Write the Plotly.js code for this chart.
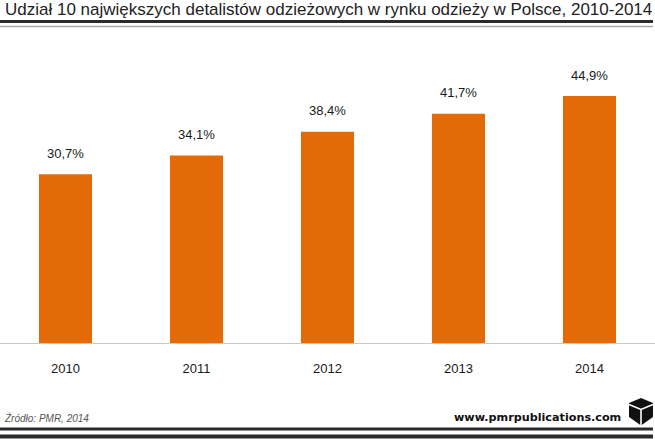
<!DOCTYPE html>
<html>
<head>
<meta charset="utf-8">
<script src="https://cdn.plot.ly/plotly-3.0.1.min.js"></script>
<style>
html,body{margin:0;padding:0;background:#fff;}
#chart{width:655px;height:439px;}
</style>
</head>
<body>
<div id="chart"></div>
<script>
// ---- data ----
const years = ["2010", "2011", "2012", "2013", "2014"];
const shares = [30.7, 34.1, 38.4, 41.7, 44.9];
const shareLabels = ["30,7%", "34,1%", "38,4%", "41,7%", "44,9%"];

const titleText = "Udział 10 największych detalistów odzieżowych w rynku odzieży w Polsce, 2010-2014";
const sourceText = "Źródło: PMR, 2014";
const siteText = "www.pmrpublications.com";

// ---- layout helpers (pixel -> paper) ----
const W = 655, H = 439, MT = 68, MB = 96, ML = 0, MR = 0;
const plotH = H - MT - MB, plotW = W - ML - MR;
const px = x => (x - ML) / plotW;
const py = y => (H - MB - y) / plotH;

const ORANGE = "#E46A07";

const trace = {
  type: "bar",
  x: years,
  y: shares,
  marker: {color: ORANGE, line: {width: 0}},
  hoverinfo: "skip"
};

// value labels: category index positions on the category axis
const annotations = years.map((yr, i) => ({
  x: i, y: shares[i], xref: "x", yref: "y",
  text: shareLabels[i], showarrow: false,
  yshift: 21, yanchor: "middle",
  font: {family: "Liberation Sans, Arial, sans-serif", size: 13, color: "#1a1a1a"}
}));

annotations.push({
  xref: "paper", yref: "paper", x: px(3), y: py(10),
  xanchor: "left", yanchor: "middle", showarrow: false,
  text: titleText,
  font: {family: "Liberation Sans, Arial, sans-serif", size: 17, color: "#222"}
});
annotations.push({
  xref: "paper", yref: "paper", x: px(2), y: py(418),
  xanchor: "left", yanchor: "middle", showarrow: false,
  text: "<i>" + sourceText + "</i>",
  font: {family: "Liberation Sans, Arial, sans-serif", size: 10, color: "#555"}
});
annotations.push({
  xref: "paper", yref: "paper", x: px(623), y: py(417),
  xanchor: "right", yanchor: "middle", showarrow: false,
  text: "<b>" + siteText + "</b>",
  font: {family: "DejaVu Sans, sans-serif", size: 11.2, color: "#111"}
});

function poly(pts){
  return "M" + pts.map(p => px(p[0]) + "," + py(p[1])).join(" L") + " Z";
}
function pline(pts){
  return "M" + pts.map(p => px(p[0]) + "," + py(p[1])).join(" L");
}

const shapes = [
  // title rules
  {type: "line", xref: "paper", yref: "paper", x0: px(0), x1: px(653), y0: py(21.5), y1: py(21.5), line: {color: "#2b2b2b", width: 3}},
  {type: "line", xref: "paper", yref: "paper", x0: px(0), x1: px(653), y0: py(26.5), y1: py(26.5), line: {color: "#a8a8a8", width: 1.5}},
  // bottom rules
  {type: "line", xref: "paper", yref: "paper", x0: px(0), x1: px(653), y0: py(429), y1: py(429), line: {color: "#2b2b2b", width: 3}},
  {type: "line", xref: "paper", yref: "paper", x0: px(0), x1: px(653), y0: py(436.5), y1: py(436.5), line: {color: "#2b2b2b", width: 4}},
  // logo
  {type: "path", xref: "paper", yref: "paper", path: poly([[641,398],[653,403],[653,417],[641,425.5],[629,417],[629,403]]), fillcolor: "#111", line: {width: 0}},
  {type: "path", xref: "paper", yref: "paper", path: pline([[629,404.5],[641,409.5],[653,404.5]]), line: {color: "#fff", width: 1.6}},
  {type: "path", xref: "paper", yref: "paper", path: pline([[641,409.5],[641,426]]), line: {color: "#fff", width: 1.6}}
];

const layout = {
  width: W, height: H,
  margin: {l: ML, r: MR, t: MT, b: MB, pad: 0},
  paper_bgcolor: "#fff", plot_bgcolor: "#fff",
  showlegend: false,
  bargap: 0.595,
  xaxis: {
    type: "category",
    range: [-0.5, 4.5], autorange: false,
    showline: true, linecolor: "#c8c8c8", linewidth: 1,
    showgrid: false, zeroline: false,
    ticks: "", ticklabelstandoff: 13,
    tickfont: {family: "Liberation Sans, Arial, sans-serif", size: 13, color: "#1a1a1a"},
    fixedrange: true
  },
  yaxis: {
    range: [0, 50], autorange: false, visible: false, showgrid: false, zeroline: false, fixedrange: true
  },
  annotations: annotations,
  shapes: shapes
};

Plotly.newPlot("chart", [trace], layout, {staticPlot: true, displayModeBar: false});
</script>
</body>
</html>
